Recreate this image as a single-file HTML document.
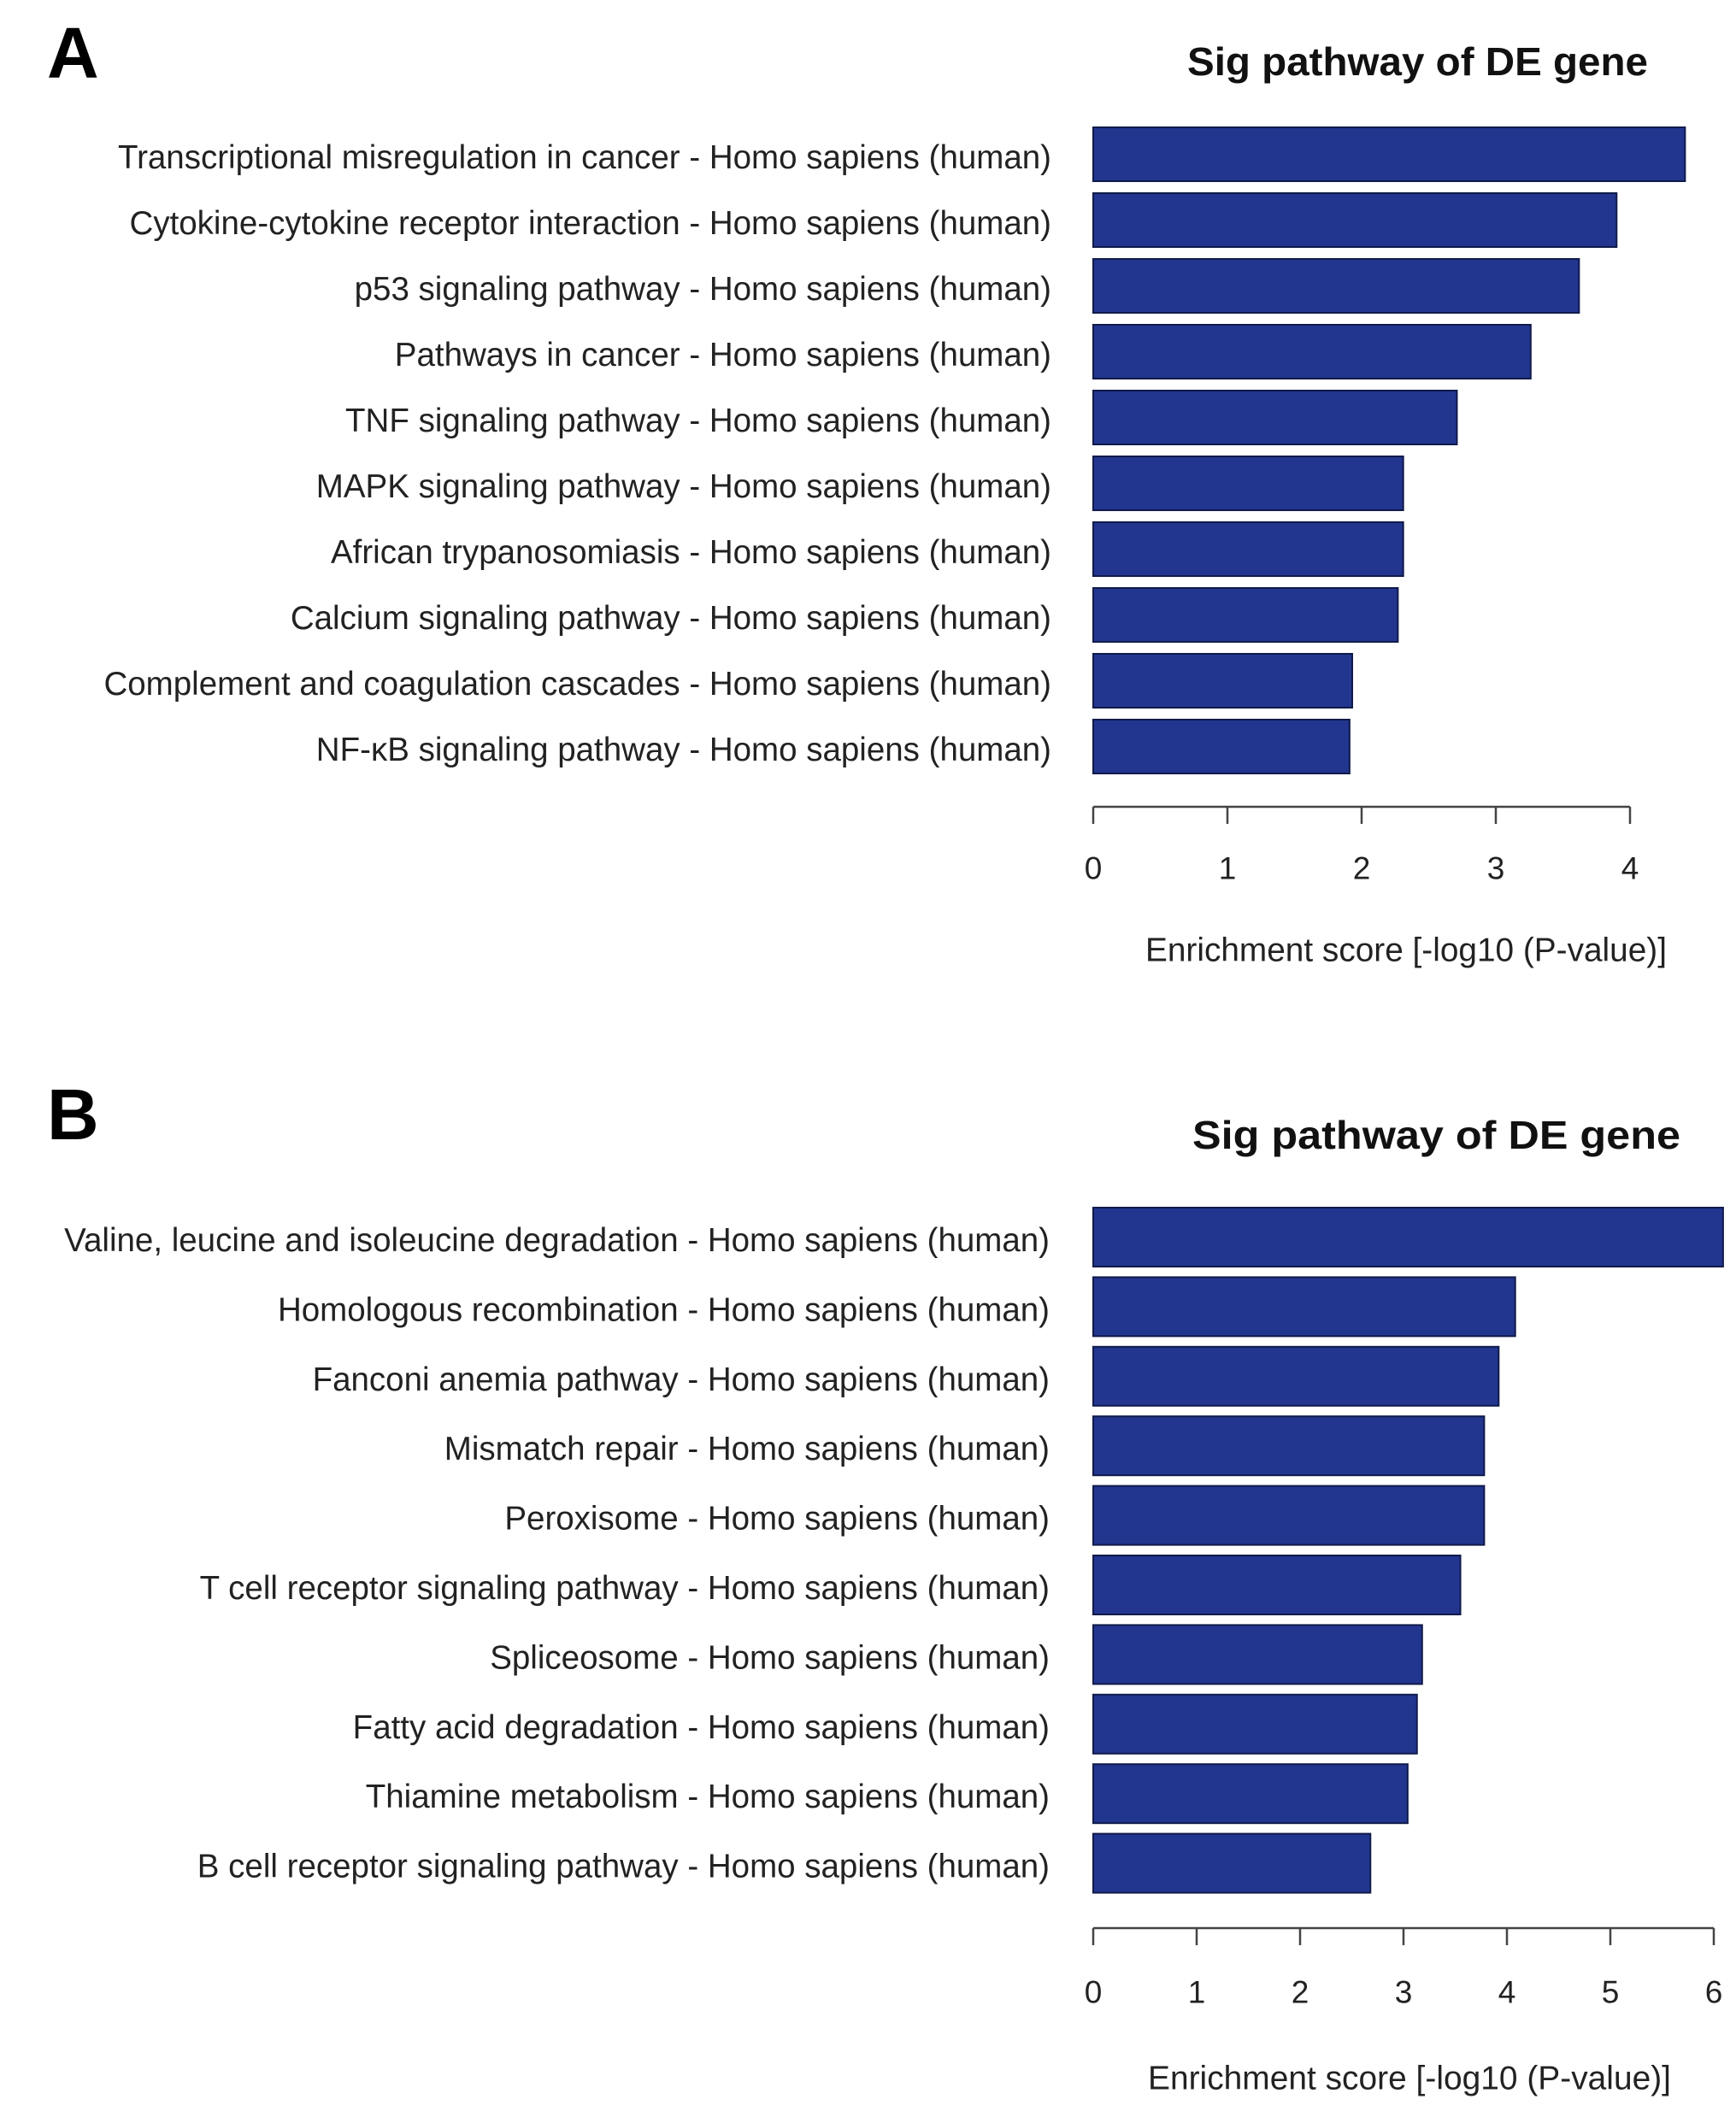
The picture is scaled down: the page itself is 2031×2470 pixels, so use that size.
<!DOCTYPE html>
<html><head><meta charset="utf-8"><style>
html,body{margin:0;padding:0;background:#fff;}
svg{display:block;font-family:"Liberation Sans",Arial,sans-serif;}
</style></head><body>
<svg id="fig" width="2031" height="2470" viewBox="0 0 2031 2470">
<text x="55" y="91" font-size="84" font-weight="bold">A</text>
<text x="55" y="1333" font-size="84" font-weight="bold">B</text>
</svg>
<script>
const catsA = ["Transcriptional misregulation in cancer - Homo sapiens (human)","Cytokine-cytokine receptor interaction - Homo sapiens (human)","p53 signaling pathway - Homo sapiens (human)","Pathways in cancer - Homo sapiens (human)","TNF signaling pathway - Homo sapiens (human)","MAPK signaling pathway - Homo sapiens (human)","African trypanosomiasis - Homo sapiens (human)","Calcium signaling pathway - Homo sapiens (human)","Complement and coagulation cascades - Homo sapiens (human)","NF-κB signaling pathway - Homo sapiens (human)"];
const valsA = [4.41,3.90,3.62,3.26,2.71,2.31,2.31,2.27,1.93,1.91];
const ticksA = [0,1,2,3,4];
const catsB = ["Valine, leucine and isoleucine degradation - Homo sapiens (human)","Homologous recombination - Homo sapiens (human)","Fanconi anemia pathway - Homo sapiens (human)","Mismatch repair - Homo sapiens (human)","Peroxisome - Homo sapiens (human)","T cell receptor signaling pathway - Homo sapiens (human)","Spliceosome - Homo sapiens (human)","Fatty acid degradation - Homo sapiens (human)","Thiamine metabolism - Homo sapiens (human)","B cell receptor signaling pathway - Homo sapiens (human)"];
const valsB = [6.09,4.08,3.92,3.78,3.78,3.55,3.18,3.13,3.04,2.68];
const ticksB = [0,1,2,3,4,5,6];

const NS="http://www.w3.org/2000/svg";
const svg=document.getElementById('fig');
function mk(tag,attrs,parent,text){const e=document.createElementNS(NS,tag);for(const k in attrs)e.setAttribute(k,attrs[k]);if(text!==undefined)e.textContent=text;(parent||svg).appendChild(e);return e;}

function panel(p,cats,vals,ticks){
  const g=mk('g',{});
  
  
  const x=v=>p.x0+v*p.unit;
  const y=i=>p.top+i*p.pitch;
  const t=mk('text',{x:(p.tx1+p.tx2)/2,y:p.titleY,'font-size':46,'font-weight':'bold','text-anchor':'middle','dominant-baseline':'central',textLength:p.tx2-p.tx1,lengthAdjust:'spacingAndGlyphs',fill:'#111'},g,'Sig pathway of DE gene');
  
  
  cats.forEach((c,i)=>{
    const r=mk('rect',{x:x(0),y:y(i),width:x(vals[i])-x(0),height:p.bh,fill:'#22368f',stroke:'#101a4a','stroke-width':2},g);
    
    
    const l=mk('text',{x:p.lx,y:y(i)+p.bh/2+4,'font-size':38.5,'text-anchor':'end','dominant-baseline':'central',fill:'#222'},g,c);
    
    
  });
  const ax=mk('line',{x1:x(ticks[0]),x2:x(ticks[ticks.length-1]),y1:p.axY,y2:p.axY,stroke:'#444','stroke-width':2.5},g);
  
  
  ticks.forEach(v=>{
    const tk=mk('line',{x1:x(v),x2:x(v),y1:p.axY,y2:p.axY+20,stroke:'#444','stroke-width':2.5},g);
    
    
    const tl=mk('text',{x:x(v),y:p.tlY,'font-size':37,'text-anchor':'middle','dominant-baseline':'central',fill:'#222'},g,String(v));
    
    
  });
  const at=mk('text',{x:(p.ax1+p.ax2)/2,y:p.atY,'font-size':39,'text-anchor':'middle','dominant-baseline':'central',textLength:p.ax2-p.ax1,lengthAdjust:'spacingAndGlyphs',fill:'#222'},g,'Enrichment  score  [-log10 (P-value)]');
  
  
}
panel({name:'panel-a',x0:1279,unit:157,top:149,pitch:77,bh:63,lx:1230,axY:944,tlY:1016,atY:1112,ax1:1340,ax2:1950,titleY:72,tx1:1389,tx2:1928},catsA,valsA,ticksA);
panel({name:'panel-b',x0:1279,unit:121,top:1413,pitch:81.4,bh:69,lx:1228,axY:2256,tlY:2331,atY:2432,ax1:1343,ax2:1955,titleY:1328,tx1:1395,tx2:1966},catsB,valsB,ticksB);
</script>
</body></html>
